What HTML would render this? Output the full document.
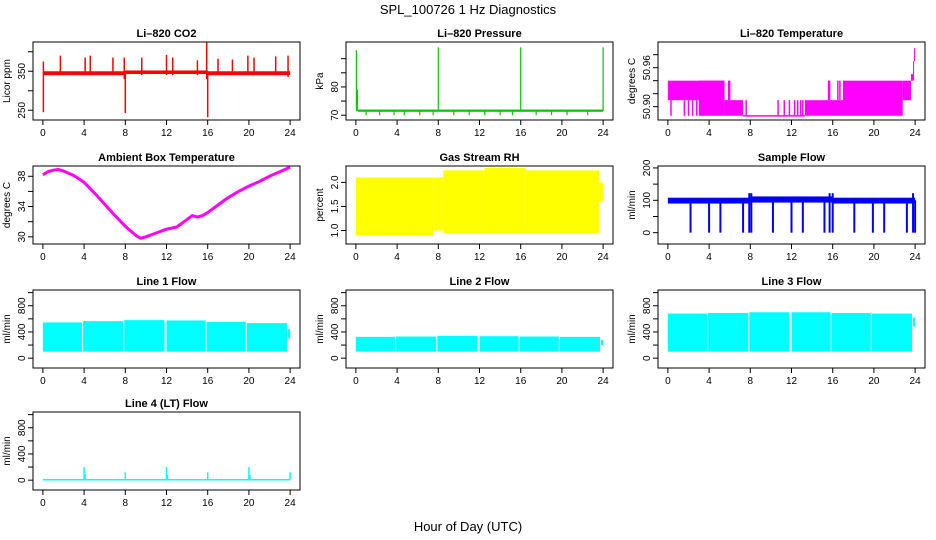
<!DOCTYPE html>
<html><head><meta charset="utf-8">
<style>
html,body{margin:0;padding:0;background:#fff;}
svg{display:block;font-family:"Liberation Sans",Arial,sans-serif;}
</style></head>
<body>
<svg id="c" width="936" height="540" viewBox="0 0 936 540">
<text x="468" y="14" text-anchor="middle" font-size="13">SPL_100726  1 Hz Diagnostics</text>
<text x="468" y="531" text-anchor="middle" font-size="13">Hour of Day (UTC)</text>
</svg>
<script>
// ---- shared data ----
const xTicks = [0,4,8,12,16,20,24];

// CO2
const co2BandX0 = [0, 8, 16];
const co2BandX1 = [8, 16, 24];
const co2BandLo = [340, 343, 340];
const co2BandHi = [350, 352, 350];
const co2SpikeX = [0.05,1.7,4.1,4.6,6.8,7.9,9.6,12.0,12.6,15.0,15.9,17.0,18.4,19.9,20.5,22.6,23.8];
const co2SpikeLo = [245,340,340,340,340,330,340,340,340,340,330,340,340,340,340,340,335];
const co2SpikeHi = [375,390,385,390,385,385,385,392,385,378,425,382,380,390,385,388,390];
const co2DownX = [8.0, 16.0];
const co2DownLo = [243, 232];

// Pressure
const prBandX0 = [0.2];
const prBandX1 = [24];
const prBandLo = [71.2];
const prBandHi = [72.0];
const prSpikeX = [0.05,0.15,8.0,16.0,24.0,1.0,2.3,3.7,4.7,6.2,7.5,9.5,11.0,12.5,14.0,15.2,17.5,19.0,20.5,22.5];
const prSpikeLo = [71.5,71.5,71.5,71.5,71.5,70,70,70,70,70,70,70,70,70,70,70,70,70,70,70];
const prSpikeHi = [93,79,94,94,94,71.6,71.6,71.6,71.6,71.6,71.6,71.6,71.6,71.6,71.6,71.6,71.6,71.6,71.6,71.6];

// Li-820 temperature
const tpBandX0 = [0, 3.0, 5.5, 7.3, 13.3, 17.0, 22.8, 23.6, 23.8, 23.9];
const tpBandX1 = [5.5, 5.5, 7.3, 13.3, 17.0, 22.8, 23.6, 23.8, 23.9, 24.0];
const tpBandLo = [50.91, 50.886, 50.886, 50.885, 50.886, 50.886, 50.91, 50.94, 50.94, 50.97];
const tpBandHi = [50.94, 50.94, 50.91, 50.887, 50.91, 50.94, 50.94, 50.95, 50.97, 50.99];
const tpSpikeX = [0.3,1.6,2.0,2.4,2.8,5.9,6.0,7.6,10.7,11.3,11.8,12.3,12.6,12.9,13.1,15.6,15.7,16.5,16.7];
const tpSpikeLo = [50.886,50.886,50.886,50.886,50.886,50.91,50.91,50.886,50.886,50.886,50.886,50.886,50.886,50.886,50.886,50.91,50.91,50.91,50.91];
const tpSpikeHi = [50.91,50.91,50.91,50.91,50.91,50.94,50.94,50.91,50.91,50.91,50.91,50.91,50.91,50.91,50.91,50.94,50.94,50.94,50.94];

// Ambient box temperature
const ambHours = [0,0.5,1,1.5,2,3,4,5,6,7,8,9,9.5,10,11,12,13,14,14.5,15,15.5,16,17,18,19,20,21,22,23,24];
const ambTemp = [38.2,38.6,38.8,38.9,38.7,38.1,37.2,35.8,34.3,32.8,31.4,30.2,29.8,30.0,30.5,31.0,31.3,32.3,32.8,32.6,32.8,33.2,34.2,35.2,36.0,36.7,37.3,38.0,38.6,39.2];

// Gas stream RH
const rhBandX0 = [0, 7.5, 8.5, 12.5, 16.5, 23.6];
const rhBandX1 = [7.5, 8.5, 12.5, 16.5, 23.6, 24];
const rhBandLo = [0.9, 1.0, 0.95, 0.95, 0.95, 1.6];
const rhBandHi = [2.1, 2.1, 2.25, 2.3, 2.25, 2.0];

// Sample flow
const sfBandX0 = [0, 8, 16];
const sfBandX1 = [8, 16, 24];
const sfBandLo = [90, 93, 90];
const sfBandHi = [108, 112, 108];
const sfSpikeX = [2.2,4.0,5.1,7.3,7.9,8.1,10.2,12.0,13.1,15.2,15.7,16.0,18.1,19.9,21.0,23.2,23.8,24.0];
const sfSpikeLo = [0,0,0,0,0,0,0,0,0,0,0,0,0,0,0,0,0,0];
const sfSpikeHi = [100,100,100,100,122,122,100,100,100,100,122,122,100,100,100,100,122,100];

// Line flows
const l1BandX0 = [0, 3.9, 7.9, 12.0, 15.9, 19.8, 23.8];
const l1BandX1 = [3.8, 7.8, 11.8, 15.8, 19.7, 23.7, 24.0];
const l1BandLo = [100,100,100,100,100,100,300];
const l1BandHi = [545,565,580,575,555,535,440];
const l2BandX0 = [0, 3.9, 7.9, 12.0, 15.9, 19.8, 23.8];
const l2BandX1 = [3.8, 7.8, 11.8, 15.8, 19.7, 23.7, 24.0];
const l2BandLo = [100,100,100,100,100,100,200];
const l2BandHi = [325,330,340,335,330,325,280];
const l3BandX0 = [0, 3.9, 7.9, 12.0, 15.9, 19.8, 23.8];
const l3BandX1 = [3.8, 7.8, 11.8, 15.8, 19.7, 23.7, 24.0];
const l3BandLo = [100,100,100,100,100,100,480];
const l3BandHi = [680,690,700,700,690,680,620];
const l4BandX0 = [0];
const l4BandX1 = [24];
const l4BandLo = [3];
const l4BandHi = [18];
const l4SpikeX = [4.0,4.1,8.0,12.0,12.1,16.0,20.0,20.1,24.0];
const l4SpikeLo = [10,10,10,10,10,10,10,10,10];
const l4SpikeHi = [200,90,120,200,80,120,200,80,120];

// ---- drawing ----
const NS = "http://www.w3.org/2000/svg";
const svg = document.getElementById('c');
function mk(tag, attrs, parent){
  const e = document.createElementNS(NS, tag);
  for (const k in attrs) e.setAttribute(k, attrs[k]);
  (parent||svg).appendChild(e);
  return e;
}
const colL = [33, 346, 658], W = 267;
const rowT = [42, 166, 290, 412], H = 78;

function panel(o){
  const L = colL[o.col], T = rowT[o.row];
  const g = mk('g', {});
  
  
  const xs = h => L + (h + 0.96) / 25.92 * W;
  const ys = v => T + H - (v - o.ymin) / (o.ymax - o.ymin) * H;
  const cl = 'clip' + o.name;
  const cp = mk('clipPath', {id: cl}, g);
  mk('rect', {x: L, y: T, width: W, height: H}, cp);
  const dg = mk('g', {'clip-path': 'url(#' + cl + ')'}, g);
  
  
  const col = o.color;
  if (o.bx0) for (let i = 0; i < o.bx0.length; i++){
    const r = mk('rect', {x: xs(o.bx0[i]), y: ys(o.bhi[i]), width: Math.max(1, xs(o.bx1[i]) - xs(o.bx0[i])), height: Math.max(1.5, ys(o.blo[i]) - ys(o.bhi[i])), fill: col}, dg);
    
    
  }
  if (o.sx) for (let i = 0; i < o.sx.length; i++){
    const l = mk('line', {x1: xs(o.sx[i]), x2: xs(o.sx[i]), y1: ys(o.slo[i]), y2: ys(o.shi[i]), stroke: col, 'stroke-width': o.sw || 1.5}, dg);
    
    
  }
  if (o.lx){
    const d = o.lx.map((h, i) => (i ? 'L' : 'M') + xs(h).toFixed(1) + ',' + ys(o.ly[i]).toFixed(1)).join('');
    const p = mk('path', {d: d, fill: 'none', stroke: col, 'stroke-width': 3, 'stroke-linejoin': 'round'}, dg);
    
    
  }
  const box = mk('rect', {x: L, y: T, width: W, height: H, fill: 'none', stroke: '#000', 'stroke-width': 1}, g);
  
  
  const t = mk('text', {x: L + W / 2, y: T - 5, 'text-anchor': 'middle', 'font-size': 11, 'font-weight': 'bold'}, g);
  t.textContent = o.title;
  
  
  for (const h of xTicks){
    mk('line', {x1: xs(h), x2: xs(h), y1: T + H, y2: T + H + 5, stroke: '#000'}, g);
    const tl = mk('text', {x: xs(h), y: T + H + 16, 'text-anchor': 'middle', 'font-size': 10}, g);
    tl.textContent = h;
    
    
  }
  for (const v of o.yt){
    mk('line', {x1: L - 5, x2: L, y1: ys(v), y2: ys(v), stroke: '#000'}, g);
  }
  for (const v of o.yl){
    const yl = mk('text', {x: 0, y: 0, 'text-anchor': 'middle', 'font-size': 10, transform: 'translate(' + (L - 8) + ',' + ys(v) + ') rotate(-90)'}, g);
    yl.textContent = o.fmt ? v.toFixed(o.fmt) : v;
    
    
  }
  const yt = mk('text', {x: 0, y: 0, 'text-anchor': 'middle', 'font-size': 10, transform: 'translate(' + (L - 23) + ',' + (T + H / 2) + ') rotate(-90)'}, g);
  yt.textContent = o.ylab;
  
  
}

panel({name:'co2-panel', col:0, row:0, title:'Li\u2013820 CO2', ylab:'Licor ppm', ymin:225, ymax:425, yt:[250,300,350,400], yl:[250,350], color:'#ff0000',
  bx0:co2BandX0, bx1:co2BandX1, blo:co2BandLo, bhi:co2BandHi,
  sx:co2SpikeX.concat(co2DownX), slo:co2SpikeLo.concat(co2DownLo), shi:co2SpikeHi.concat([350,350])});
panel({name:'pressure-panel', col:1, row:0, title:'Li\u2013820 Pressure', ylab:'kPa', ymin:68.3, ymax:95.9, yt:[70,75,80,85,90], yl:[70,80], color:'#00cc00', sw:1.2,
  bx0:prBandX0, bx1:prBandX1, blo:prBandLo, bhi:prBandHi, sx:prSpikeX, slo:prSpikeLo, shi:prSpikeHi});
panel({name:'li820-temperature-panel', col:2, row:0, title:'Li\u2013820 Temperature', ylab:'degrees C', ymin:50.8795, ymax:50.9995, yt:[50.90,50.92,50.94,50.96,50.98], yl:[50.90,50.96], fmt:2, color:'#ff00ff',
  bx0:tpBandX0, bx1:tpBandX1, blo:tpBandLo, bhi:tpBandHi, sx:tpSpikeX, slo:tpSpikeLo, shi:tpSpikeHi});
panel({name:'ambient-temperature-panel', col:0, row:1, title:'Ambient Box Temperature', ylab:'degrees C', ymin:29.05, ymax:39.36, yt:[30,32,34,36,38], yl:[30,34,38], color:'#ff00ff',
  lx:ambHours, ly:ambTemp});
panel({name:'rh-panel', col:1, row:1, title:'Gas Stream RH', ylab:'percent', ymin:0.72, ymax:2.34, yt:[1.0,1.5,2.0], yl:[1.0,1.5,2.0], fmt:1, color:'#ffff00',
  bx0:rhBandX0, bx1:rhBandX1, blo:rhBandLo, bhi:rhBandHi});
panel({name:'sample-flow-panel', col:2, row:1, title:'Sample Flow', ylab:'ml/min', ymin:-35, ymax:206, yt:[0,50,100,150,200], yl:[0,100,200], color:'#0000ff', sw:2,
  bx0:sfBandX0, bx1:sfBandX1, blo:sfBandLo, bhi:sfBandHi, sx:sfSpikeX, slo:sfSpikeLo, shi:sfSpikeHi});
panel({name:'line1-flow-panel', col:0, row:2, title:'Line 1 Flow', ylab:'ml/min', ymin:-150, ymax:1040, yt:[0,200,400,600,800,1000], yl:[0,400,800], color:'#00ffff',
  bx0:l1BandX0, bx1:l1BandX1, blo:l1BandLo, bhi:l1BandHi});
panel({name:'line2-flow-panel', col:1, row:2, title:'Line 2 Flow', ylab:'ml/min', ymin:-150, ymax:1040, yt:[0,200,400,600,800,1000], yl:[0,400,800], color:'#00ffff',
  bx0:l2BandX0, bx1:l2BandX1, blo:l2BandLo, bhi:l2BandHi});
panel({name:'line3-flow-panel', col:2, row:2, title:'Line 3 Flow', ylab:'ml/min', ymin:-150, ymax:1040, yt:[0,200,400,600,800,1000], yl:[0,400,800], color:'#00ffff',
  bx0:l3BandX0, bx1:l3BandX1, blo:l3BandLo, bhi:l3BandHi});
panel({name:'line4-flow-panel', col:0, row:3, title:'Line 4 (LT) Flow', ylab:'ml/min', ymin:-150, ymax:1040, yt:[0,200,400,600,800,1000], yl:[0,400,800], color:'#00ffff',
  bx0:l4BandX0, bx1:l4BandX1, blo:l4BandLo, bhi:l4BandHi, sx:l4SpikeX, slo:l4SpikeLo, shi:l4SpikeHi});
</script>
</body></html>
